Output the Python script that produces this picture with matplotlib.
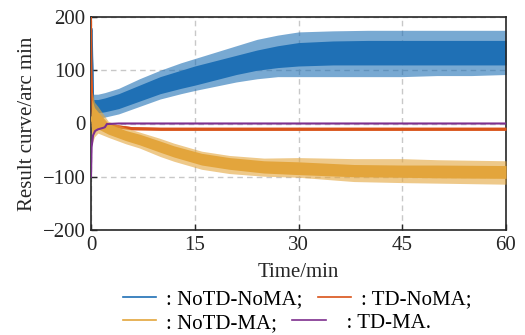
import matplotlib
matplotlib.use("Agg")
from matplotlib import pyplot as plt
from matplotlib.lines import Line2D

# NoTD-NoMA (blue): core band and spike envelope, arc min
t_b = [0, 0.12, 0.35, 1, 2, 4, 7, 10, 13, 15, 18, 21, 24, 27, 30, 35, 40, 45, 50, 55, 60]
b_lo = [180, 170, 18, 20, 22, 28, 42, 56, 66, 72, 82, 92, 100, 105, 108, 110, 110, 110, 110, 110, 110]
b_hi = [180, 180, 45, 45, 48, 56, 72, 88, 100, 108, 118, 128, 138, 146, 152, 155, 156, 156, 156, 156, 156]
b_slo = [180, 160, 8, 10, 12, 18, 32, 46, 56, 62, 70, 78, 84, 88, 88, 88, 88, 88, 90, 90, 92]
b_shi = [180, 180, 55, 55, 58, 66, 84, 100, 114, 122, 134, 146, 158, 166, 172, 174, 175, 175, 175, 175, 175]

# TD-NoMA (red)
t_r = [0, 0.06, 0.25, 1, 3, 6, 10, 60]
r_lo = [200, 100, 12, -1, -7, -12, -13, -13]
r_hi = [200, 100, 18, 5, -1, -6, -7, -7]

# NoTD-MA (yellow)
t_y = [0, 0.15, 0.5, 1, 2.5, 5, 7, 10, 12, 16, 20, 25, 30, 38, 45, 50, 60]
y_lo = [5, -20, -12, -10, -20, -32, -40, -54, -63, -78, -86, -93, -96, -100, -101, -102, -103]
y_hi = [5, 45, 30, 22, 0, -13, -20, -33, -42, -56, -64, -70, -72, -77, -78, -78, -79]
y_slo = [5, -38, -25, -18, -26, -38, -46, -62, -71, -86, -94, -99, -101, -109, -111, -112, -114]
y_shi = [5, 60, 40, 32, 4, -8, -16, -28, -37, -52, -60, -65, -64, -66, -66, -68, -70]

# TD-MA (purple)
t_p = [0, 0.08, 0.3, 0.6, 1.0, 1.8, 2.0, 2.3, 4, 60]
p_v = [-100, -45, -22, -14, -11, -8, -7, -1, 0, 0]

x_ticks = [0, 15, 30, 45, 60]
y_ticks = [-200, -100, 0, 100, 200]

c_blue = "#1f70b5"
c_red = "#d95319"
c_yel = "#e3a53c"
c_pur = "#7e2f8e"

plt.rcParams["font.family"] = ["Liberation Serif", "DejaVu Serif"]
fs = 15

fig = plt.figure(figsize=(5.25, 3.35), dpi=100)
ax = fig.add_axes([91 / 525, 1 - 230 / 335, 415 / 525, 213 / 335])

# blue
ax.fill_between(t_b, b_slo, b_shi, color=c_blue, alpha=0.6, lw=0, zorder=2)
ax.fill_between(t_b, b_lo, b_hi, color=c_blue, lw=0, zorder=2)
ax.plot(t_b, [(a + b) / 2 for a, b in zip(b_lo, b_hi)], color=c_blue, lw=1.2, zorder=2)
# red
ax.fill_between(t_r, r_lo, r_hi, color=c_red, lw=0, zorder=3)
ax.plot(t_r, [(a + b) / 2 for a, b in zip(r_lo, r_hi)], color=c_red, lw=1.5, zorder=3)
# yellow
ax.fill_between(t_y, y_slo, y_shi, color=c_yel, alpha=0.6, lw=0, zorder=4)
ax.fill_between(t_y, y_lo, y_hi, color=c_yel, lw=0, zorder=4)
ax.plot(t_y, [(a + b) / 2 for a, b in zip(y_lo, y_hi)], color=c_yel, lw=1.2, zorder=4)
# purple
ax.plot(t_p, p_v, color=c_pur, lw=1.5, zorder=5)

ax.set_xlim(0, 60)
ax.set_ylim(-200, 200)
ax.set_xticks(x_ticks)
ax.set_yticks(y_ticks)
ax.grid(True, ls=(0, (4, 3)), color="#c8c8c8", lw=1)
ax.set_axisbelow(True)
ax.tick_params(direction="in", length=4, width=1, labelsize=fs, colors="#262626", pad=4)
for s in ax.spines.values():
    s.set_color("#262626")
    s.set_linewidth(1.2)

ax.set_xlabel("Time/min", fontsize=fs, color="#262626", labelpad=6)
ax.set_ylabel("Result curve/arc min", fontsize=fs, color="#262626", labelpad=4)

# legend rows, left aligned under the axes
h = lambda c: Line2D([], [], color=c, lw=1.2)
kw = dict(ncol=2, frameon=False, fontsize=fs, handlelength=1.6, handletextpad=0.48,
          columnspacing=0.72, borderpad=0, borderaxespad=0, loc="center left")
fig.legend([h(c_blue), h(c_red)], [": NoTD-NoMA;", ": TD-NoMA;"],
           bbox_to_anchor=(123 / 525, 1 - 299 / 335), **kw)
fig.legend([h(c_yel), h(c_pur)], [": NoTD-MA;", "  : TD-MA."],
           bbox_to_anchor=(123 / 525, 1 - 323 / 335), **kw)

fig.savefig("out.png", dpi=100)
